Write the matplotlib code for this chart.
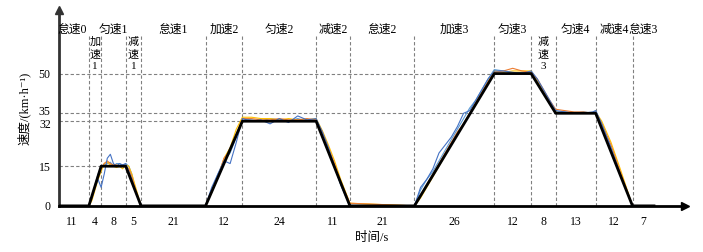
import numpy as np
import matplotlib
matplotlib.use("Agg")
from matplotlib import pyplot as plt
from matplotlib import transforms

plt.rcParams['font.family'] = ['Liberation Serif', 'Noto Sans CJK SC', 'DejaVu Sans']

# segments of the cycle
segs = ['怠速0', '加速1', '匀速1', '减速1', '怠速1', '加速2', '匀速2', '减速2',
        '怠速2', '加速3', '匀速3', '减速3', '匀速4', '减速4', '怠速3']
durs = [11, 4, 8, 5, 21, 12, 24, 11, 21, 26, 12, 8, 13, 12, 7]
stacked = [1, 3, 11]   # narrow segments, label written top-down

# standard (black) cycle speeds at segment boundaries
std_v = [0, 0, 15, 15, 0, 0, 32, 32, 0, 0, 50, 50, 35, 35, 0, 0]

# reference levels -> drawn up to time
ref_lv = [50, 35, 32, 15]
ref_to = [143, 163, 61, 15]

# measured traces
t_meas = [0, 11, 12, 13, 14, 15, 16, 17, 18, 19, 20, 21, 22, 23, 24, 25, 26, 27, 28,
          49, 51, 53, 55, 57, 59, 61, 64, 67, 70, 73, 76, 79, 82, 85, 87, 89, 91, 93, 96,
          117, 119, 121, 123, 125, 127, 129, 131, 133, 135, 137, 139, 141, 143,
          146, 149, 152, 155, 157, 159, 161, 163, 166, 169, 172, 175, 176,
          178, 181, 184, 188, 195]
v_blue = [0, 0, 3, 7, 10, 7, 12, 18, 19.5, 16, 15, 16, 15.5, 16, 13, 10, 6, 3, 0,
          0, 7, 12, 17, 16, 24, 33, 32, 32.5, 31, 33, 31.5, 34, 32.5, 33, 28, 22, 15, 8, 0,
          0, 7, 10, 14, 20, 23, 26, 30, 35, 36, 40, 44, 48, 51,
          51, 50.5, 50, 51, 48, 44, 40, 36, 35.5, 35, 35, 35.5, 36,
          31, 22, 12, 0, 0]
v_orange = [0, 0, 3, 7, 11, 14, 16, 17, 16, 15.5, 15.5, 15, 15.5, 15, 14, 11, 7, 3, 0,
            0, 6, 11, 18, 21, 27, 33, 33, 32.5, 32.5, 33, 32.5, 32.5, 33, 32.5, 28, 22, 16, 9, 1,
            0, 4, 8, 12, 16, 20, 24, 28, 31, 35, 39, 43, 47, 50.5,
            51, 52, 51, 50.5, 48, 44, 40, 36.5, 36, 35.5, 35.5, 35, 35.5,
            31, 23, 13, 0, 0]
v_yellow = [0, 0, 2, 6, 10, 13, 16, 16.5, 15.5, 15, 14.5, 15, 14, 15.5, 15, 12, 8, 4, 0,
            0, 5, 11, 18, 22, 29, 33.5, 33.5, 33, 33, 32.5, 33, 32.5, 32.5, 33, 28.5, 23, 17, 10, 1,
            0, 3, 7, 11, 15, 19, 23, 27, 31, 35, 39, 43, 47, 51,
            50.5, 51, 51, 51, 47.5, 43, 39, 35.5, 35, 35, 35, 35, 35.5,
            32, 24, 14, 0, 0]
v_lblue = [0, 0, 3, 8, 12, 15, 15.5, 16, 16.5, 15, 16, 16, 15, 16, 15, 12, 7, 3, 0,
           0, 6, 12, 17, 20, 26, 33, 32.5, 32, 33, 32.5, 32, 33, 32, 32.5, 27, 21, 15, 8, 0,
           0, 6, 10, 13, 17, 21, 25, 29, 33, 37, 40, 44, 48, 51.5,
           51, 50, 50.5, 50.5, 47, 43, 39, 35.5, 35.5, 35, 35.5, 35, 36,
           31, 22, 12, 0, 0]

bounds = np.concatenate([[0], np.cumsum(durs)])
mids = (bounds[:-1] + bounds[1:]) / 2

fig = plt.figure(figsize=(7.03, 2.52), dpi=100)
ax = fig.add_axes([0.084, 0.183, 0.89, 0.777])
ax.set_xlim(1.3, 205)
ax.set_ylim(0, 74)

dash = dict(color='#808080', lw=0.8, ls=(0, (3, 2)))
for b in bounds[1:-1]:
    ax.plot([b, b], [0, 65], **dash, zorder=1)
for lv, to in zip(ref_lv, ref_to):
    ax.plot([1.3, to], [lv, lv], **dash, zorder=1)

ax.plot(t_meas, v_lblue, color='#5B9BD5', lw=0.8, zorder=2)
ax.plot(t_meas, v_yellow, color='#FFC000', lw=0.8, zorder=2)
ax.plot(t_meas, v_orange, color='#ED7D31', lw=0.8, zorder=2)
ax.plot(t_meas, v_blue, color='#4472C4', lw=0.8, zorder=2)
ax.plot(bounds, std_v, color='black', lw=2.0, zorder=3)

for i, (name, m) in enumerate(zip(segs, mids)):
    if i in stacked:
        ax.text(m, 63.8, '\n'.join(name), ha='center', va='top', fontsize=8,
                linespacing=1.3)
    else:
        ax.text(m, 66.5, name, ha='center', va='center', fontsize=8.5)

for s in ['top', 'right']:
    ax.spines[s].set_visible(False)
ax.spines['left'].set_linewidth(2)
ax.spines['left'].set_color('#333333')
ax.spines['bottom'].set_linewidth(2)
ax.plot([0], [1], marker='^', ms=6, color='#333333', transform=ax.transAxes, clip_on=False)
ax.plot([1], [0], marker='>', ms=6, color='black', transform=ax.transAxes, clip_on=False)

ax.set_yticks([0, 15, 32, 35, 50])
ax.set_yticklabels(['0', '15', '32', '35', '50'])
ax.set_xticks(mids)
ax.set_xticklabels([str(d) for d in durs])
ax.tick_params(axis='both', length=0, labelsize=8.5)
ax.tick_params(axis='x', pad=7)
ax.tick_params(axis='y', pad=6)

# nudge the close 32/35 labels apart
for lab in ax.get_yticklabels():
    if lab.get_text() == '35':
        lab.set_transform(lab.get_transform() + transforms.ScaledTranslation(0, 2 / 72, fig.dpi_scale_trans))
    elif lab.get_text() == '32':
        lab.set_transform(lab.get_transform() + transforms.ScaledTranslation(0, -2 / 72, fig.dpi_scale_trans))

ax.set_xlabel('时间/s', fontsize=9, labelpad=3)
ax.set_ylabel('速度/(km·h⁻¹)', fontsize=9, labelpad=6)

fig.savefig('out.png', dpi=100)
